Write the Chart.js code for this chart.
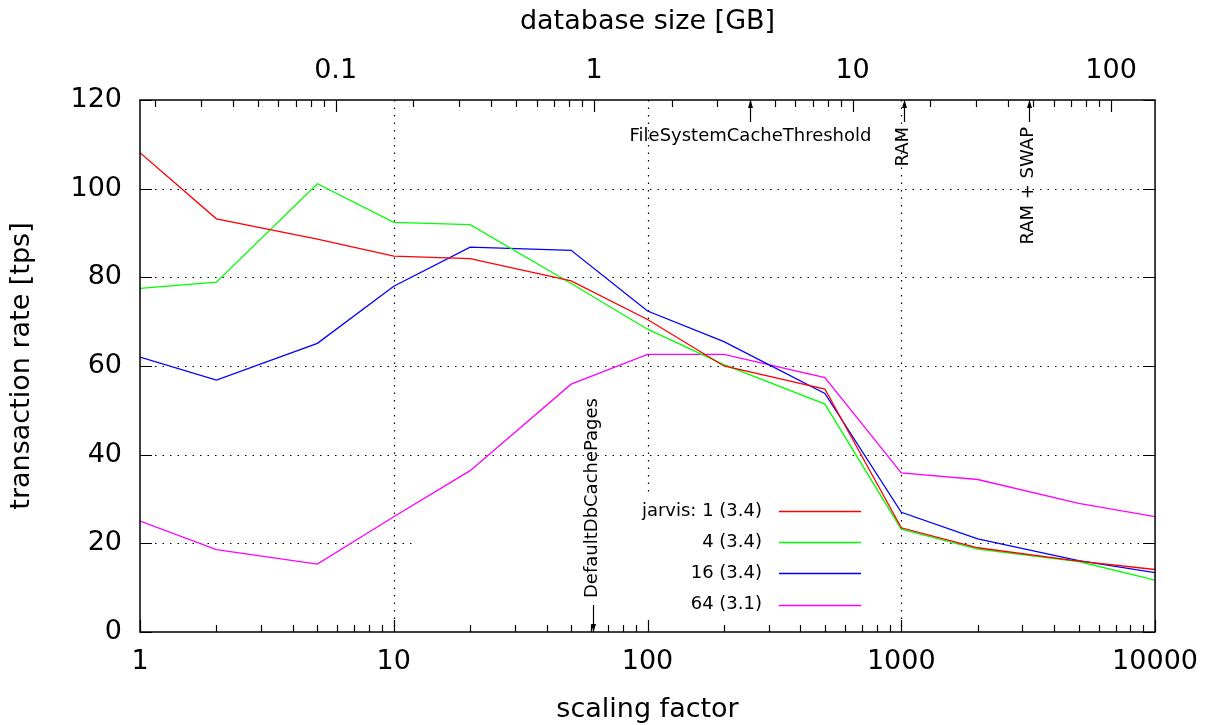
<!DOCTYPE html>
<html><head><meta charset="utf-8">
<script src="https://cdn.jsdelivr.net/npm/chart.js@4"></script>
<style>html,body{margin:0;padding:0;background:#fff;} #wrap{width:1212px;height:725px;position:relative;}</style>
</head><body><div id="wrap"><canvas id="c"></canvas></div>
<script>
const scalingFactors = [1, 2, 5, 10, 20, 50, 100, 200, 500, 1000, 2000, 5000, 10000];
const jarvis1  = [108.1, 93.2, 88.6, 84.8, 84.2, 79.2, 70.5, 60.0, 54.8, 23.5, 19.0, 16.0, 14.1];
const jarvis4  = [77.5, 78.9, 101.1, 92.4, 91.9, 78.6, 68.3, 60.3, 51.4, 23.2, 18.7, 15.9, 11.7];
const jarvis16 = [62.0, 56.8, 65.1, 78.0, 86.8, 86.1, 72.4, 65.5, 53.8, 27.0, 21.0, 16.1, 13.4];
const jarvis64 = [25.0, 18.6, 15.3, 26.0, 36.4, 55.9, 62.6, 62.6, 57.4, 35.9, 34.4, 29.0, 26.0];
const seriesLabels = ['jarvis: 1 (3.4)', '4 (3.4)', '16 (3.4)', '64 (3.1)'];
const seriesColors = ['#ff0000', '#00ff00', '#0000ff', '#ff00ff'];
const xTicks = [1, 10, 100, 1000, 10000];
const yTicks = [0, 20, 40, 60, 80, 100, 120];
const x2Ticks = [0.1, 1, 10, 100];
const x2Range = [0.0175, 148];
const markerLabels = ['FileSystemCacheThreshold', 'RAM', 'RAM + SWAP', 'DefaultDbCachePages'];
const markerValues = [4, 15.8, 48, 61];   // first three in GB (top axis), last in scaling factor
const FONT = '"DejaVu Sans", sans-serif';

const seriesValues = [jarvis1, jarvis4, jarvis16, jarvis64];
const datasets = seriesValues.map((vals, i) => ({
  label: seriesLabels[i],
  data: scalingFactors.map((x, j) => ({x: x, y: vals[j]})),
  borderColor: seriesColors[i],
  backgroundColor: seriesColors[i],
  borderWidth: 1.3,
  pointRadius: 0,
  tension: 0,
  fill: false,
  xAxisID: 'x',
  yAxisID: 'y'
}));

function minorLog(min, max) {
  const out = [];
  for (let e = Math.floor(Math.log10(min)); e <= Math.ceil(Math.log10(max)); e++) {
    for (let m = 1; m <= 9; m++) {
      const v = m * Math.pow(10, e);
      if (v >= min * 0.9999 && v <= max * 1.0001) out.push({v: v, major: m === 1});
    }
  }
  return out;
}

const gnuplotPlugin = {
  id: 'gnuplot',
  beforeDatasetsDraw(chart) {
    const {ctx, chartArea: a, scales} = chart;
    ctx.save();
    ctx.strokeStyle = '#000';
    ctx.lineWidth = 1.2;
    ctx.setLineDash([1.5, 6]);
    yTicks.forEach(v => {
      if (v === 0 || v === 120) return;
      const y = Math.round(scales.y.getPixelForValue(v)) + 0.5;
      ctx.beginPath(); ctx.moveTo(a.left, y); ctx.lineTo(a.right, y); ctx.stroke();
    });
    xTicks.forEach(v => {
      if (v === 1 || v === 10000) return;
      const x = Math.round(scales.x.getPixelForValue(v)) + 0.5;
      ctx.beginPath(); ctx.moveTo(x, a.top); ctx.lineTo(x, a.bottom); ctx.stroke();
    });
    ctx.setLineDash([]);
    ctx.fillStyle = '#fff';
    ctx.fillRect(415, 495, 462, a.bottom - 495);
    ctx.restore();
  },
  afterDatasetsDraw(chart) {
    const {ctx, chartArea: a, scales} = chart;
    ctx.save();
    ctx.strokeStyle = '#000';
    ctx.fillStyle = '#000';
    ctx.lineWidth = 1.5;
    ctx.strokeRect(a.left, a.top, a.right - a.left, a.bottom - a.top);
    ctx.lineWidth = 1.2;
    yTicks.forEach(v => {
      const y = Math.round(scales.y.getPixelForValue(v)) + 0.5;
      ctx.beginPath();
      ctx.moveTo(a.left, y); ctx.lineTo(a.left + 12, y);
      ctx.moveTo(a.right, y); ctx.lineTo(a.right - 12, y);
      ctx.stroke();
    });
    minorLog(1, 10000).forEach(t => {
      const x = Math.round(scales.x.getPixelForValue(t.v)) + 0.5;
      const len = t.major ? 12 : 7;
      ctx.beginPath(); ctx.moveTo(x, a.bottom); ctx.lineTo(x, a.bottom - len); ctx.stroke();
    });
    minorLog(x2Range[0], x2Range[1]).forEach(t => {
      const x = Math.round(scales.x2.getPixelForValue(t.v)) + 0.5;
      const len = t.major ? 12 : 7;
      ctx.beginPath(); ctx.moveTo(x, a.top); ctx.lineTo(x, a.top + len); ctx.stroke();
    });
    // key
    ctx.font = '18px ' + FONT;
    ctx.textBaseline = 'middle';
    ctx.textAlign = 'right';
    chart.data.datasets.forEach((ds, i) => {
      const y = 511 + i * 31.2;
      ctx.fillStyle = '#000';
      ctx.fillText(ds.label, 762, y);
      ctx.strokeStyle = ds.borderColor;
      ctx.lineWidth = 1.3;
      ctx.beginPath(); ctx.moveTo(779, Math.round(y) + 0.5); ctx.lineTo(861, Math.round(y) + 0.5); ctx.stroke();
    });
    // annotations
    ctx.strokeStyle = '#000';
    ctx.fillStyle = '#000';
    ctx.lineWidth = 1.2;
    const arrowUp = (x, y0, y1) => {
      ctx.beginPath(); ctx.moveTo(x, y0); ctx.lineTo(x, y1); ctx.stroke();
      ctx.beginPath(); ctx.moveTo(x, y1); ctx.lineTo(x - 2.5, y1 + 8); ctx.lineTo(x + 2.5, y1 + 8); ctx.closePath(); ctx.fill();
    };
    const arrowDown = (x, y0, y1) => {
      ctx.beginPath(); ctx.moveTo(x, y0); ctx.lineTo(x, y1); ctx.stroke();
      ctx.beginPath(); ctx.moveTo(x, y1); ctx.lineTo(x - 2.5, y1 - 8); ctx.lineTo(x + 2.5, y1 - 8); ctx.closePath(); ctx.fill();
    };
    let x = Math.round(scales.x2.getPixelForValue(markerValues[0])) + 0.5;
    arrowUp(x, a.top + 22, a.top);
    ctx.textAlign = 'center'; ctx.textBaseline = 'middle';
    ctx.fillText(markerLabels[0], x, a.top + 36);
    [1, 2].forEach(k => {
      const xx = Math.round(scales.x2.getPixelForValue(markerValues[k])) + 0.5;
      arrowUp(xx, a.top + 22, a.top);
      ctx.save();
      ctx.translate(xx - 1, a.top + 27);
      ctx.rotate(-Math.PI / 2);
      ctx.textAlign = 'right'; ctx.textBaseline = 'middle';
      ctx.fillText(markerLabels[k], 0, 0);
      ctx.restore();
    });
    x = Math.round(scales.x.getPixelForValue(markerValues[3])) + 0.5;
    arrowDown(x, a.bottom - 27, a.bottom);
    ctx.save();
    ctx.translate(x - 1, a.bottom - 34);
    ctx.rotate(-Math.PI / 2);
    ctx.textAlign = 'left'; ctx.textBaseline = 'middle';
    ctx.fillText(markerLabels[3], 0, 0);
    ctx.restore();
    ctx.restore();
  }
};

const tickFont = {family: FONT, size: 27};
new Chart(document.getElementById('c'), {
  type: 'line',
  data: {datasets: datasets},
  options: {
    responsive: true,
    maintainAspectRatio: false,
    animation: false,
    events: [],
    layout: {padding: {left: 0, right: 55, top: 0, bottom: 0}},
    plugins: {legend: {display: false}, tooltip: {enabled: false}},
    scales: {
      x: {
        type: 'logarithmic', position: 'bottom', min: 1, max: 10000,
        afterBuildTicks: s => { s.ticks = xTicks.map(v => ({value: v})); },
        afterFit: s => { s.height = 93; },
        ticks: {font: tickFont, color: '#000', padding: 14, maxRotation: 0, autoSkip: false, callback: v => String(v)},
        grid: {display: false, drawTicks: false},
        border: {display: false},
        title: {display: true, text: 'scaling factor', font: {family: FONT, size: 27, lineHeight: 1.0}, color: '#000', padding: {top: 0, bottom: 2}}
      },
      x2: {
        type: 'logarithmic', position: 'top', min: x2Range[0], max: x2Range[1],
        afterBuildTicks: s => { s.ticks = x2Ticks.map(v => ({value: v})); },
        afterFit: s => { s.height = 100; },
        ticks: {font: tickFont, color: '#000', padding: 13, maxRotation: 0, autoSkip: false, callback: v => String(v)},
        grid: {display: false, drawTicks: false},
        border: {display: false},
        title: {display: true, text: 'database size [GB]', font: {family: FONT, size: 27}, color: '#000', padding: {top: 6, bottom: 0}}
      },
      y: {
        type: 'linear', position: 'left', min: 0, max: 120,
        afterBuildTicks: s => { s.ticks = yTicks.map(v => ({value: v})); },
        afterFit: s => { s.width = 140; },
        ticks: {font: tickFont, color: '#000', padding: 18},
        grid: {display: false, drawTicks: false},
        border: {display: false},
        title: {display: true, text: 'transaction rate [tps]', font: {family: FONT, size: 27}, color: '#000', padding: {top: 6, bottom: 0}}
      }
    }
  },
  plugins: [gnuplotPlugin]
});
</script></body></html>
